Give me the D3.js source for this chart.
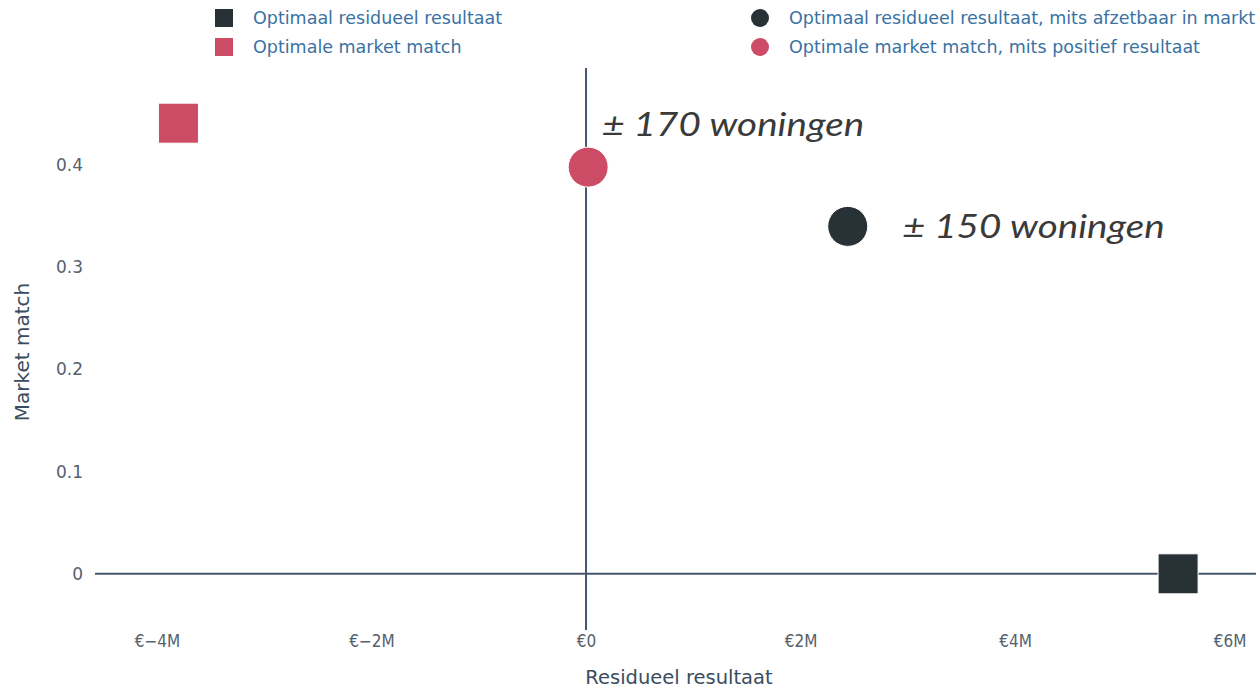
<!DOCTYPE html>
<html><head><meta charset="utf-8">
<script src="https://cdn.jsdelivr.net/npm/d3@7"></script>
<style>body{margin:0;background:#fff}svg{display:block}</style>
</head><body>
<svg id="c" width="1256" height="689"></svg>
<script>
// Data
const seriesNames = ["Optimaal residueel resultaat", "Optimale market match", "Optimaal residueel resultaat, mits afzetbaar in markt", "Optimale market match, mits positief resultaat"];
const seriesShape = ["square", "square", "circle", "circle"];
const seriesColor = ["#283136", "#cc4b65", "#283136", "#cc4b65"];
const residueel = [5.52e6, -3.80e6, 2.44e6, 0.02e6];
const marketMatch = [0.0, 0.441, 0.340, 0.398];
const pointLabels = ["", "", "± 150 woningen", "± 170 woningen"];
const xTicks = [-4e6, -2e6, 0, 2e6, 4e6, 6e6];
const xTickLabels = ["€−4M", "€−2M", "€0", "€2M", "€4M", "€6M"];
const yTicks = [0, 0.1, 0.2, 0.3, 0.4];
const yTickLabels = ["0", "0.1", "0.2", "0.3", "0.4"];

const svg = d3.select("#c");
const x = d3.scaleLinear().domain([-4.578e6, 6.293e6]).range([95, 1261]);
const y = d3.scaleLinear().domain([-0.055, 0.495]).range([630, 68]);
const condFont = "'DejaVu Sans Condensed','DejaVu Sans',sans-serif";
const sansFont = "'DejaVu Sans',sans-serif";

// zero lines
svg.append("line").attr("x1", x.range()[0]).attr("x2", x.range()[1])
  .attr("y1", y(0)).attr("y2", y(0)).attr("stroke", "#46586b").attr("stroke-width", 2);
svg.append("line").attr("x1", x(0)).attr("x2", x(0))
  .attr("y1", y.range()[0]).attr("y2", y.range()[1]).attr("stroke", "#46586b").attr("stroke-width", 2);

// axes (labels only)
const xAxis = d3.axisBottom(x).tickValues(xTicks).tickFormat((d, i) => xTickLabels[i]).tickSize(0).tickPadding(0);
const gx = svg.append("g").attr("transform", "translate(0,635)").call(xAxis);
gx.select(".domain").remove();
gx.selectAll("text").attr("font-family", condFont).attr("font-size", 17).attr("fill", "#56616d");

const yAxis = d3.axisLeft(y).tickValues(yTicks).tickFormat((d, i) => yTickLabels[i]).tickSize(0).tickPadding(0);
const gy = svg.append("g").attr("transform", "translate(83,0)").call(yAxis);
gy.select(".domain").remove();
gy.selectAll("text").attr("font-family", sansFont).attr("font-size", 17).attr("fill", "#56616d");

// axis titles
svg.append("text").attr("x", 679).attr("y", 684).attr("text-anchor", "middle")
  .attr("font-family", sansFont).attr("font-size", 19.5).attr("fill", "#3a4d60").text("Residueel resultaat");
svg.append("text").attr("transform", "translate(29,352) rotate(-90)").attr("text-anchor", "middle")
  .attr("font-family", sansFont).attr("font-size", 20).attr("fill", "#3a4d60").text("Market match");

// markers
const pts = residueel.map((v, i) => ({x: v, y: marketMatch[i], shape: seriesShape[i], color: seriesColor[i], label: pointLabels[i]}));
const S = 40;
pts.forEach(p => {
  if (p.shape === "square") {
    svg.append("rect").attr("x", x(p.x) - S / 2).attr("y", y(p.y) - S / 2).attr("width", S).attr("height", S)
      .attr("fill", p.color).attr("stroke", "#fff").attr("stroke-width", 1);
  } else {
    svg.append("circle").attr("cx", x(p.x)).attr("cy", y(p.y)).attr("r", S / 2)
      .attr("fill", p.color).attr("stroke", "#fff").attr("stroke-width", 1);
  }
});

// annotations
const annFont = "Lato, 'Open Sans', sans-serif";
svg.append("text").attr("x", x(residueel[3]) + 14).attr("y", y(marketMatch[3]) - 31)
  .attr("font-family", annFont).attr("font-style", "italic").attr("font-size", 33).attr("fill", "#3a3a3a")
  .attr("textLength", 262).attr("lengthAdjust", "spacingAndGlyphs").text(pointLabels[3]);
svg.append("text").attr("x", x(residueel[2]) + 55).attr("y", y(marketMatch[2]) + 12)
  .attr("font-family", annFont).attr("font-style", "italic").attr("font-size", 33).attr("fill", "#3a3a3a")
  .attr("textLength", 262).attr("lengthAdjust", "spacingAndGlyphs").text(pointLabels[2]);

// legend
const legPos = [[224, 18], [224, 47], [760, 18], [760, 47]];
seriesNames.forEach((n, i) => {
  const [lx, ly] = legPos[i];
  if (seriesShape[i] === "square") {
    svg.append("rect").attr("x", lx - 9).attr("y", ly - 9).attr("width", 18).attr("height", 18).attr("fill", seriesColor[i]);
  } else {
    svg.append("circle").attr("cx", lx).attr("cy", ly).attr("r", 9).attr("fill", seriesColor[i]);
  }
  svg.append("text").attr("x", lx + 29).attr("y", ly + 6).attr("font-family", sansFont).attr("font-size", 17.5)
    .attr("fill", "#3a72a3").text(n);
});
</script>
</body></html>
